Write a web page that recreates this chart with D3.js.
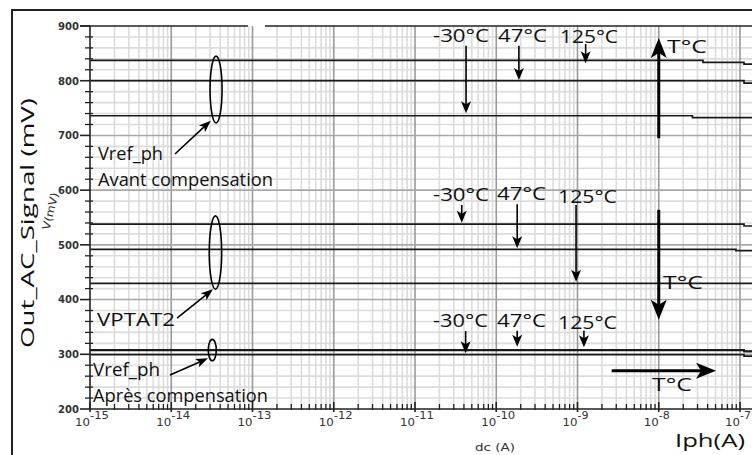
<!DOCTYPE html>
<html><head><meta charset="utf-8">
<script src="https://cdn.jsdelivr.net/npm/d3@7"></script>
<style>html,body{margin:0;padding:0;background:#fff;overflow:hidden}</style>
</head><body>
<svg id="chart" width="752" height="455"></svg>
<script>
// Photocurrent sweep (log axis) — decades shown
const decades = [-15, -14, -13, -12, -11, -10, -9, -8, -7];
const mvTicks = [200, 300, 400, 500, 600, 700, 800, 900];

// Vref_ph before compensation (step lines: [Iph (A), V (mV)])
const vrefAvantM30 = [[1e-15, 736], [2.6e-8, 732.5], [1e-6, 732.5]];
const vrefAvantP47 = [[1e-15, 800], [1.12e-7, 795.5], [1e-6, 795.5]];
const vrefAvantP125 = [[1e-15, 837.3], [3.5e-8, 833.7], [1.12e-7, 830.5], [1e-6, 830.5]];
// VPTAT2
const vptatM30 = [[1e-15, 538], [1.12e-7, 534.5], [1e-6, 534.5]];
const vptatP47 = [[1e-15, 491.8], [8.9e-8, 489.3], [1e-6, 489.3]];
const vptatP125 = [[1e-15, 429.7], [1e-6, 429.7]];
// Vref_ph after compensation
const vrefApresM30 = [[1e-15, 299.3], [1.12e-7, 296.5], [1e-6, 296.5]];
const vrefApresP47 = [[1e-15, 307], [1.12e-7, 305], [1e-6, 305]];
const vrefApresP125 = [[1e-15, 308.3], [1.12e-7, 306], [1e-6, 306]];

// temperature arrows: [Iph, from mV, tip mV]
const tempArrows = [
  [4.25e-11, 864, 740.4], [1.9e-10, 864, 801.3], [1.26e-9, 867, 831.8],
  [3.76e-11, 573, 540.5], [1.81e-10, 574, 493.7], [9.6e-10, 573, 432.6],
  [4.2e-11, 342.5, 301.8], [1.81e-10, 343, 313.8], [1.2e-9, 343, 312.7]
];
// temperature labels: [text, Iph, mV, width]
const tempLabels = [
  ["-30°C", 1.667e-11, 870.8, 56], ["47°C", 1.05e-10, 870.8, 49], ["125°C", 6.1e-10, 869, 58],
  ["-30°C", 1.667e-11, 580.1, 56], ["47°C", 1.02e-10, 581.9, 49], ["125°C", 5.75e-10, 576.5, 59],
  ["-30°C", 1.667e-11, 349.8, 55], ["47°C", 1.02e-10, 349.8, 49], ["125°C", 5.75e-10, 346.2, 59]
];
// T°C trend arrows: [Iph1, mV1, Iph2, mV2]
const trendArrows = [[1e-8, 695, 1e-8, 878], [1e-8, 564, 1e-8, 363], [2.63e-9, 270, 5.07e-8, 270]];
const trendLabels = [["T°C", 1.263e-8, 850.6], ["T°C", 1.127e-8, 419.3], ["T°C", 8.26e-9, 233.8]];
// group ellipses: [Iph, top mV, bottom mV, half width]
const groupEllipses = [[3.56e-14, 845, 723, 6], [3.5e-14, 553, 419, 6.2], [3.2e-14, 327.3, 288.2, 4]];
// callout texts: [text, Iph, mV, width]
const callouts = [
  ["Vref_ph", 1.254e-15, 655, 65], ["Avant compensation", 1.254e-15, 607.5, 175],
  ["VPTAT2", 1.22e-15, 351.7, 78],
  ["Vref_ph", 1.089e-15, 260.3, 67], ["Après compensation", 1.089e-15, 213.7, 175]
];
// callout arrows: [Iph1, mV1, Iph2, mV2]
const calloutArrows = [
  [1.112e-14, 666, 3.06e-14, 726.9],
  [1.178e-14, 366.3, 3.26e-14, 418.7],
  [9.65e-15, 262.1, 2.83e-14, 292.6]
];
// break in the top frame line
const frameGap = [8.8e-14, 1.425e-13];

const W = 752, H = 455;
const svg = d3.select("#chart");
const x = d3.scaleLog().domain([1e-15, 1e-7]).range([90, 740]);
const y = d3.scaleLinear().domain([200, 900]).range([409, 26]);
const xRight = W;

// outer frame
svg.append("rect").attr("x", 12).attr("y", 10).attr("width", W).attr("height", H)
  .attr("fill", "none").attr("stroke", "#222").attr("stroke-width", 2);

const plot = svg.append("g");

// minor vertical grid (2..9 of each decade)
const minorX = [];
decades.slice(0, -1).forEach(d => { for (let k = 2; k <= 9; k++) minorX.push(k * Math.pow(10, d)); });
for (let k = 2; k <= 9; k++) minorX.push(k * 1e-7);
plot.selectAll(".gxm").data(minorX).join("line")
  .attr("x1", d => x(d)).attr("x2", d => x(d)).attr("y1", y(900)).attr("y2", y(200))
  .attr("stroke", "#dcdcdc").attr("stroke-width", 1.6);
// minor horizontal grid every 20 mV
const minorY = d3.range(220, 900, 20).filter(v => v % 100 !== 0);
plot.selectAll(".gym").data(minorY).join("line")
  .attr("x1", x(1e-15)).attr("x2", xRight).attr("y1", d => y(d)).attr("y2", d => y(d))
  .attr("stroke", "#dcdcdc").attr("stroke-width", 1.6);
// major grid
plot.selectAll(".gxM").data(decades.slice(1)).join("line")
  .attr("x1", d => x(Math.pow(10, d))).attr("x2", d => x(Math.pow(10, d)))
  .attr("y1", y(900)).attr("y2", y(200)).attr("stroke", "#9a9a9a").attr("stroke-width", 1.6);
plot.selectAll(".gyM").data(mvTicks.slice(1, -1)).join("line")
  .attr("x1", x(1e-15)).attr("x2", xRight).attr("y1", d => y(d)).attr("y2", d => y(d))
  .attr("stroke", "#a8a8a8").attr("stroke-width", 1.6);

// top frame line with its break
svg.append("line").attr("x1", 80).attr("x2", x(frameGap[0])).attr("y1", y(900)).attr("y2", y(900))
  .attr("stroke", "#222").attr("stroke-width", 1.6);
svg.append("line").attr("x1", x(frameGap[1])).attr("x2", xRight).attr("y1", y(900)).attr("y2", y(900))
  .attr("stroke", "#222").attr("stroke-width", 1.6);

// data lines
const line = d3.line().x(d => x(d[0])).y(d => y(d[1])).curve(d3.curveStepAfter);
[vrefAvantM30, vrefAvantP47, vrefAvantP125, vptatM30, vptatP47, vptatP125,
 vrefApresM30, vrefApresP47, vrefApresP125].forEach(s => {
  svg.append("path").attr("d", line(s)).attr("fill", "none")
    .attr("stroke", "#1a1a1a").attr("stroke-width", 1.7);
});

// left axis
const yAxis = svg.append("g").attr("transform", `translate(${x(1e-15)},0)`);
yAxis.append("line").attr("y1", y(900)).attr("y2", y(200)).attr("stroke", "#222").attr("stroke-width", 1.6);
yAxis.selectAll(".ymin").data(d3.range(220, 900, 20).filter(v => v % 100 !== 0)).join("line")
  .attr("x1", -5).attr("x2", 3).attr("y1", d => y(d)).attr("y2", d => y(d))
  .attr("stroke", "#222").attr("stroke-width", 1.3);
yAxis.selectAll(".ymaj").data(mvTicks).join("line")
  .attr("x1", -10).attr("x2", 0).attr("y1", d => y(d)).attr("y2", d => y(d))
  .attr("stroke", "#222").attr("stroke-width", 1.6);
yAxis.selectAll(".ylab").data(mvTicks).join("text")
  .attr("x", -11).attr("y", d => y(d) + 3.8).attr("text-anchor", "end")
  .attr("font-family", "DejaVu Sans").attr("font-size", 10.5).attr("font-weight", "bold")
  .attr("fill", "#333").attr("textLength", 21).attr("lengthAdjust", "spacingAndGlyphs")
  .text(d => d);

// bottom axis
const xAxis = svg.append("g").attr("transform", `translate(0,${y(200)})`);
xAxis.append("line").attr("x1", x(1e-15)).attr("x2", xRight).attr("stroke", "#222").attr("stroke-width", 1.6);
xAxis.selectAll(".xmin").data(minorX).join("line")
  .attr("x1", d => x(d)).attr("x2", d => x(d)).attr("y1", -5).attr("y2", 1)
  .attr("stroke", "#222").attr("stroke-width", 1.3);
xAxis.selectAll(".xmaj").data(decades).join("line")
  .attr("x1", d => x(Math.pow(10, d))).attr("x2", d => x(Math.pow(10, d))).attr("y1", -7).attr("y2", 3)
  .attr("stroke", "#222").attr("stroke-width", 1.6);
const xl = xAxis.selectAll(".xlab").data(decades).join("g")
  .attr("transform", d => `translate(${x(Math.pow(10, d))},0)`);
xl.append("text").attr("x", 0).attr("y", 17).attr("text-anchor", "end")
  .attr("font-family", "DejaVu Sans").attr("font-size", 11).attr("fill", "#333")
  .attr("textLength", 15).attr("lengthAdjust", "spacingAndGlyphs").text("10");
xl.append("text").attr("x", 0).attr("y", 10).attr("text-anchor", "start")
  .attr("font-family", "DejaVu Sans").attr("font-size", 10.5).attr("fill", "#333")
  .attr("textLength", d => d > -10 ? 11 : 19).attr("lengthAdjust", "spacingAndGlyphs")
  .text(d => String(d));

// axis titles
svg.append("text").attr("transform", "translate(34,223) rotate(-90)")
  .attr("text-anchor", "middle").attr("font-family", "Open Sans").attr("font-size", 18)
  .attr("fill", "#111").attr("textLength", 250).attr("lengthAdjust", "spacingAndGlyphs")
  .text("Out_AC_Signal (mV)");
svg.append("text").attr("transform", "translate(54,212) rotate(-76)")
  .attr("text-anchor", "middle").attr("font-family", "DejaVu Sans").attr("font-size", 11)
  .attr("fill", "#333").attr("textLength", 38).attr("lengthAdjust", "spacingAndGlyphs")
  .text("V(mV)");
svg.append("text").attr("x", 475).attr("y", 451).attr("font-family", "DejaVu Sans")
  .attr("font-size", 10.5).attr("fill", "#333").attr("textLength", 40)
  .attr("lengthAdjust", "spacingAndGlyphs").text("dc (A)");
svg.append("text").attr("x", 675).attr("y", 447).attr("font-family", "Open Sans")
  .attr("font-size", 19).attr("fill", "#111").attr("textLength", 70)
  .attr("lengthAdjust", "spacingAndGlyphs").text("Iph(A)");

// arrow helper (pixel space)
function arrow(x1, y1, x2, y2, sw, hl, hw) {
  const dx = x2 - x1, dy = y2 - y1, L = Math.hypot(dx, dy);
  const ux = dx / L, uy = dy / L;
  const bx = x2 - ux * hl, by = y2 - uy * hl;
  svg.append("line").attr("x1", x1).attr("y1", y1).attr("x2", x2 - ux * hl * 0.7).attr("y2", y2 - uy * hl * 0.7)
    .attr("stroke", "#000").attr("stroke-width", sw);
  svg.append("path")
    .attr("d", `M${x2},${y2}L${bx - uy * hw / 2},${by + ux * hw / 2}L${bx + ux * hl * 0.25},${by + uy * hl * 0.25}L${bx + uy * hw / 2},${by - ux * hw / 2}Z`)
    .attr("fill", "#000");
}

tempArrows.forEach(a => arrow(x(a[0]), y(a[1]), x(a[0]), y(a[2]), 1.6, 12, 10));
trendArrows.forEach(a => arrow(x(a[0]), y(a[1]), x(a[2]), y(a[3]), 3, 20, 16));
calloutArrows.forEach(a => arrow(x(a[0]), y(a[1]), x(a[2]), y(a[3]), 1.6, 12, 9));

const annoFont = "Open Sans";
svg.selectAll(".tl").data(tempLabels).join("text")
  .attr("x", d => x(d[1])).attr("y", d => y(d[2]))
  .attr("font-family", annoFont).attr("font-size", 18).attr("fill", "#111")
  .attr("textLength", d => d[3]).attr("lengthAdjust", "spacingAndGlyphs").text(d => d[0]);
svg.selectAll(".tr").data(trendLabels).join("text")
  .attr("x", d => x(d[1])).attr("y", d => y(d[2]))
  .attr("font-family", annoFont).attr("font-size", 19).attr("fill", "#111")
  .attr("textLength", 40).attr("lengthAdjust", "spacingAndGlyphs").text(d => d[0]);
svg.selectAll(".co").data(callouts).join("text")
  .attr("x", d => x(d[1])).attr("y", d => y(d[2]))
  .attr("font-family", annoFont).attr("font-size", 18).attr("fill", "#111")
  .attr("textLength", d => d[3]).attr("lengthAdjust", "spacingAndGlyphs").text(d => d[0]);

svg.selectAll(".el").data(groupEllipses).join("ellipse")
  .attr("cx", d => x(d[0])).attr("cy", d => (y(d[1]) + y(d[2])) / 2)
  .attr("rx", d => d[3]).attr("ry", d => (y(d[2]) - y(d[1])) / 2)
  .attr("fill", "none").attr("stroke", "#000").attr("stroke-width", 1.6);
</script>
</body></html>
